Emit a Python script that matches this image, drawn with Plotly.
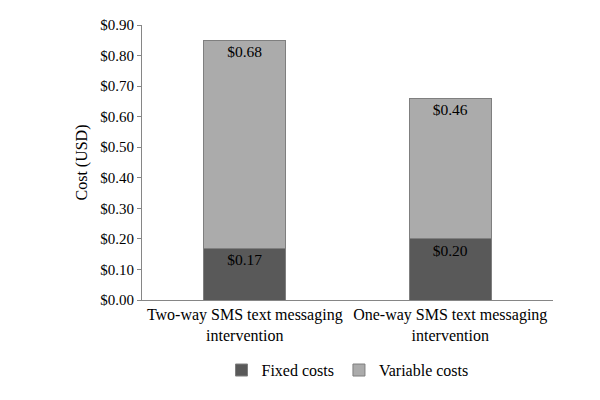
import plotly.graph_objects as go

categories = ["Two-way SMS text messaging<br>intervention", "One-way SMS text messaging<br>intervention"]
fixed_costs = [0.17, 0.20]
variable_costs = [0.68, 0.46]
y_ticks = [0.0, 0.1, 0.2, 0.3, 0.4, 0.5, 0.6, 0.7, 0.8, 0.9]

font = dict(family="Liberation Serif, Times New Roman, serif", size=16, color="black")

fig = go.Figure()
fig.add_trace(go.Bar(
    name="Fixed costs",
    x=categories,
    y=fixed_costs,
    text=["$%.2f" % v for v in fixed_costs],
    textposition="inside",
    insidetextanchor="end",
    textfont=dict(color="black", size=15.5),
    marker=dict(color="#595959", line=dict(color="#7f7f7f", width=1)),
))
fig.add_trace(go.Bar(
    name="Variable costs",
    x=categories,
    y=variable_costs,
    text=["$%.2f" % v for v in variable_costs],
    textposition="inside",
    insidetextanchor="end",
    textfont=dict(color="black", size=15.5),
    marker=dict(color="#ababab", line=dict(color="#7f7f7f", width=1)),
))

# the page body adds an 8px offset, so margins are trimmed to compensate
fig.update_layout(
    barmode="stack",
    bargap=0.6,
    width=600,
    height=400,
    margin=dict(l=134, r=55, t=17, b=108, autoexpand=False),
    paper_bgcolor="white",
    plot_bgcolor="white",
    font=font,
    uniformtext=dict(minsize=15, mode="show"),
    legend=dict(
        orientation="h",
        traceorder="normal",
        x=0.5,
        xanchor="center",
        y=-0.255,
        yanchor="middle",
        font=dict(size=16),
        itemwidth=30,
        tracegroupgap=0,
    ),
)
fig.update_xaxes(
    showline=True,
    linecolor="#868686",
    linewidth=1,
    ticks="",
    tickfont=dict(size=16),
    automargin=False,
)
fig.update_yaxes(
    range=[0, 0.9],
    tickvals=y_ticks,
    ticktext=["$%.2f" % v for v in y_ticks],
    showline=True,
    linecolor="#868686",
    linewidth=1,
    ticks="outside",
    ticklen=4,
    tickcolor="#868686",
    showgrid=False,
    zeroline=False,
    title=dict(text="Cost (USD)", standoff=8, font=dict(size=16)),
    tickfont=dict(size=15),
    automargin=False,
)

fig.write_html("out.html")
